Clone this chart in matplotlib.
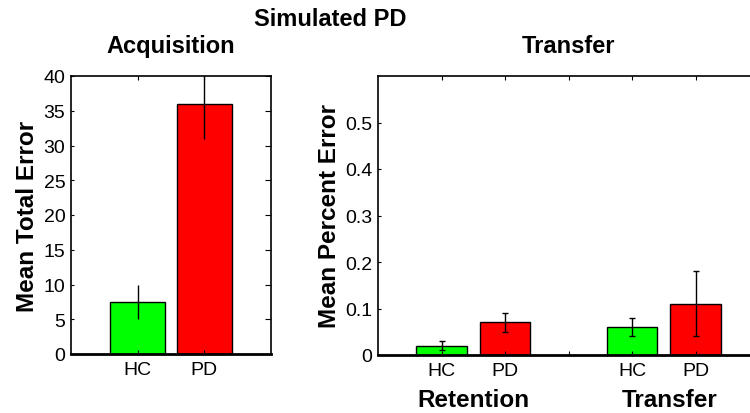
import numpy as np
import matplotlib
matplotlib.use("Agg")
import matplotlib.pyplot as plt

plt.rcParams['font.family'] = ['Liberation Sans', 'DejaVu Sans']

# Acquisition panel
acq_groups = ["HC", "PD"]
acq_means = [7.5, 36]
acq_low = [5, 31]
acq_high = [10, 41]

# Transfer panel (Retention / Transfer)
tr_labels = ["HC", "PD", "", "HC", "PD"]
tr_pos = [1, 2, 4, 5]
tr_means = [0.02, 0.07, 0.06, 0.11]
tr_low = [0.01, 0.05, 0.04, 0.04]
tr_high = [0.03, 0.09, 0.08, 0.18]
colors = ["#00ff00", "#ff0000", "#00ff00", "#ff0000"]

fig = plt.figure(figsize=(7.5, 4.14), dpi=100)
W, H = 750, 414


def px_axes(x0, y0, x1, y1):
    return fig.add_axes([x0 / W, 1 - y1 / H, (x1 - x0) / W, (y1 - y0) / H])


def style(ax):
    for s in ax.spines.values():
        s.set_linewidth(1.2)
    ax.spines['bottom'].set_linewidth(2.0)
    ax.tick_params(direction='in', top=True, right=True, labelsize=14, width=0.8)
    ax.tick_params(axis='x', length=3, pad=5)
    ax.tick_params(axis='y', pad=4)
    # short ticks on the left, longer on the right
    for t in ax.yaxis.get_major_ticks():
        t.tick1line.set_markersize(2)
        t.tick2line.set_markersize(4.5)


# left panel
ax1 = px_axes(71, 77, 271, 355)
x1 = np.arange(1, len(acq_means) + 1)
ax1.bar(x1, acq_means, width=0.82, color=colors[:2], edgecolor='black', linewidth=1)
yerr1 = [np.array(acq_means) - np.array(acq_low), np.array(acq_high) - np.array(acq_means)]
ax1.errorbar(x1, acq_means, yerr=yerr1, fmt='none', ecolor='black', elinewidth=1, capsize=0)
ax1.set_xlim(0, 3)
ax1.set_ylim(0, 40)
ax1.set_yticks(np.arange(0, 41, 5))
ax1.set_xticks(x1)
ax1.set_xticklabels(acq_groups)
ax1.set_ylabel("Mean Total Error", fontsize=17.5, fontweight='bold', labelpad=3)
ax1.set_title("Acquisition", fontsize=17, fontweight='bold', pad=17)
style(ax1)

# right panel
ax2 = px_axes(378, 77, 759, 356)
ax2.bar(tr_pos, tr_means, width=0.8, color=colors, edgecolor='black', linewidth=1)
yerr2 = [np.array(tr_means) - np.array(tr_low), np.array(tr_high) - np.array(tr_means)]
ax2.errorbar(tr_pos, tr_means, yerr=yerr2, fmt='none', ecolor='black', elinewidth=1,
             capsize=2.5, capthick=1)
ax2.set_xlim(0, 6)
ax2.set_ylim(0, 0.6)
ax2.set_yticks([0, 0.1, 0.2, 0.3, 0.4, 0.5])
ax2.set_yticklabels(["0", "0.1", "0.2", "0.3", "0.4", "0.5"])
ax2.set_xticks(range(1, 6))
ax2.set_xticklabels(tr_labels)
ax2.set_ylabel("Mean Percent Error", fontsize=17.5, fontweight='bold', labelpad=3)
ax2.set_title("Transfer", fontsize=17, fontweight='bold', pad=17)
style(ax2)

fig.text(473 / W, 1 - 401 / H, "Retention", ha='center', va='center', fontsize=17.5, fontweight='bold')
fig.text(670 / W, 1 - 401 / H, "Transfer", ha='center', va='center', fontsize=17.5, fontweight='bold')
fig.text(330 / W, 1 - 20 / H, "Simulated PD", ha='center', va='center', fontsize=17, fontweight='bold')

fig.savefig("out.png", dpi=100, facecolor='white')
